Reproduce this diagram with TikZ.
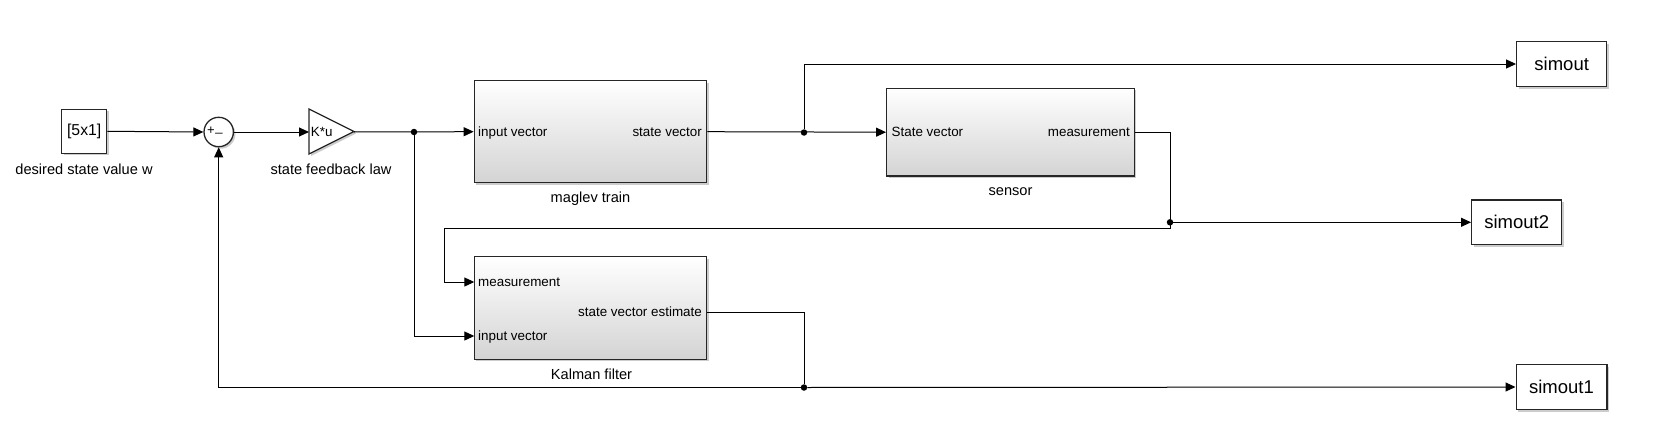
\documentclass[tikz,border=0pt]{standalone}
\usepackage{fontspec}
\setmainfont{Liberation Sans}
\usetikzlibrary{arrows.meta,shadows}
\begin{document}
\begin{tikzpicture}[x=1pt,y=-1pt,subsys/.style={draw=black!85,line width=1.3pt,minimum width=232.4pt,minimum height=102pt,top color=white,bottom color=black!17,drop shadow={shadow xshift=2pt,shadow yshift=-2pt,fill=black!40,opacity=.5}},blk/.style={draw=black!85,line width=1.3pt,fill=white,inner sep=0,drop shadow={shadow xshift=2pt,shadow yshift=-2pt,fill=black!40,opacity=.5}},sink/.style={blk,minimum width=90pt,minimum height=45pt,font=\fontsize{18.5}{22}\selectfont},portlbl/.style={inner sep=0,font=\fontsize{13.4}{16}\selectfont},namelbl/.style={inner sep=0,anchor=base,font=\fontsize{14.6}{17}\selectfont},sig/.style={line width=1pt,-{Triangle[length=10pt,width=9pt]}},wire/.style={line width=1pt},junction/.style={circle,fill=black,inner sep=0,minimum size=6.5pt}]
\useasboundingbox (0,0) rectangle (1654,439);
\node[blk,minimum width=45pt,minimum height=44pt,font=\fontsize{15.8}{19}\selectfont] (ref) at (84.2,131.3) {[5x1]};
\node[namelbl] (reflbl) at (84,174.5) {desired state value w};
\node[blk,circle,minimum size=29.4pt] (sum) at (218.7,132) {};
\node[inner sep=0,font=\fontsize{13}{15}\selectfont] (sumplus) at (211,131) {+};
\node[inner sep=0,font=\fontsize{13}{15}\selectfont] (summinus) at (219,133) {\_};
\draw[blk] (309,109) -- (354,131.5) -- (309,154) -- cycle;
\coordinate (gainin) at (309,132);
\coordinate (gainout) at (354,132);
\node[portlbl,anchor=west] (gain) at (310.7,132) {K*u};
\node[namelbl] (gainlbl) at (331,174.7) {state feedback law};
\node[subsys] (train) at (590.5,131.7) {};
\node[portlbl,anchor=base west] (trainin) at (478,136.5) {input vector};
\node[portlbl,anchor=base east] (trainout) at (702,136.5) {state vector};
\node[namelbl] (trainlbl) at (590.5,202) {maglev train};
\node[subsys,minimum width=247.6pt,minimum height=87.7pt] (sensor) at (1010.5,132.2) {};
\node[portlbl,anchor=base west] (sensorin) at (891.5,136.5) {State vector};
\node[portlbl,anchor=base east] (sensorout) at (1130,136.5) {measurement};
\node[namelbl] (sensorlbl) at (1010.5,195.5) {sensor};
\node[subsys,minimum height=102.6pt] (kf) at (590.5,308) {};
\node[portlbl,anchor=base west] (kfmeaslbl) at (478,286.5) {measurement};
\node[portlbl,anchor=base east] (kfestlbl) at (702,316.5) {state vector estimate};
\node[portlbl,anchor=base west] (kfinlbl) at (478,340.5) {input vector};
\node[namelbl] (kflbl) at (591.5,379.3) {Kalman filter};
\coordinate (kfmeas) at (474.3,282);
\coordinate (kfin) at (474.3,336);
\coordinate (kfest) at (706.7,312);
\node[sink] (simout) at (1561.7,64) {simout};
\node[sink,minimum height=44.7pt] (simout2) at (1516.7,222.3) {simout2};
\node[sink,minimum width=90.7pt] (simout1) at (1561.5,387) {simout1};
\node[junction] (d1) at (414,132) {};
\node[junction] (d2) at (804,132.5) {};
\node[junction] (d3) at (1170,222.3) {};
\node[junction] (d4) at (804,387.5) {};
\coordinate (measdown) at (1170,228.3);
\coordinate (measleft) at (444,228.3);
\draw[sig] (ref.east) -- (sum.west);
\draw[sig] (sum.east) -- (gainin);
\draw[sig] (gainout) -- (train.west);
\draw[sig] (d1) |- (kfin);
\draw[sig] (train.east) -- (sensor.west);
\draw[sig] (d2) |- (simout.west);
\draw[wire] (sensor.east) -| (measdown) -- (measleft);
\draw[sig] (measleft) |- (kfmeas);
\draw[sig] (d3) -- (simout2.west);
\draw[wire] (kfest) -| (d4);
\draw[sig] (d4) -- (simout1.west);
\draw[sig] (d4) -| (sum.south);
\end{tikzpicture}
\end{document}
